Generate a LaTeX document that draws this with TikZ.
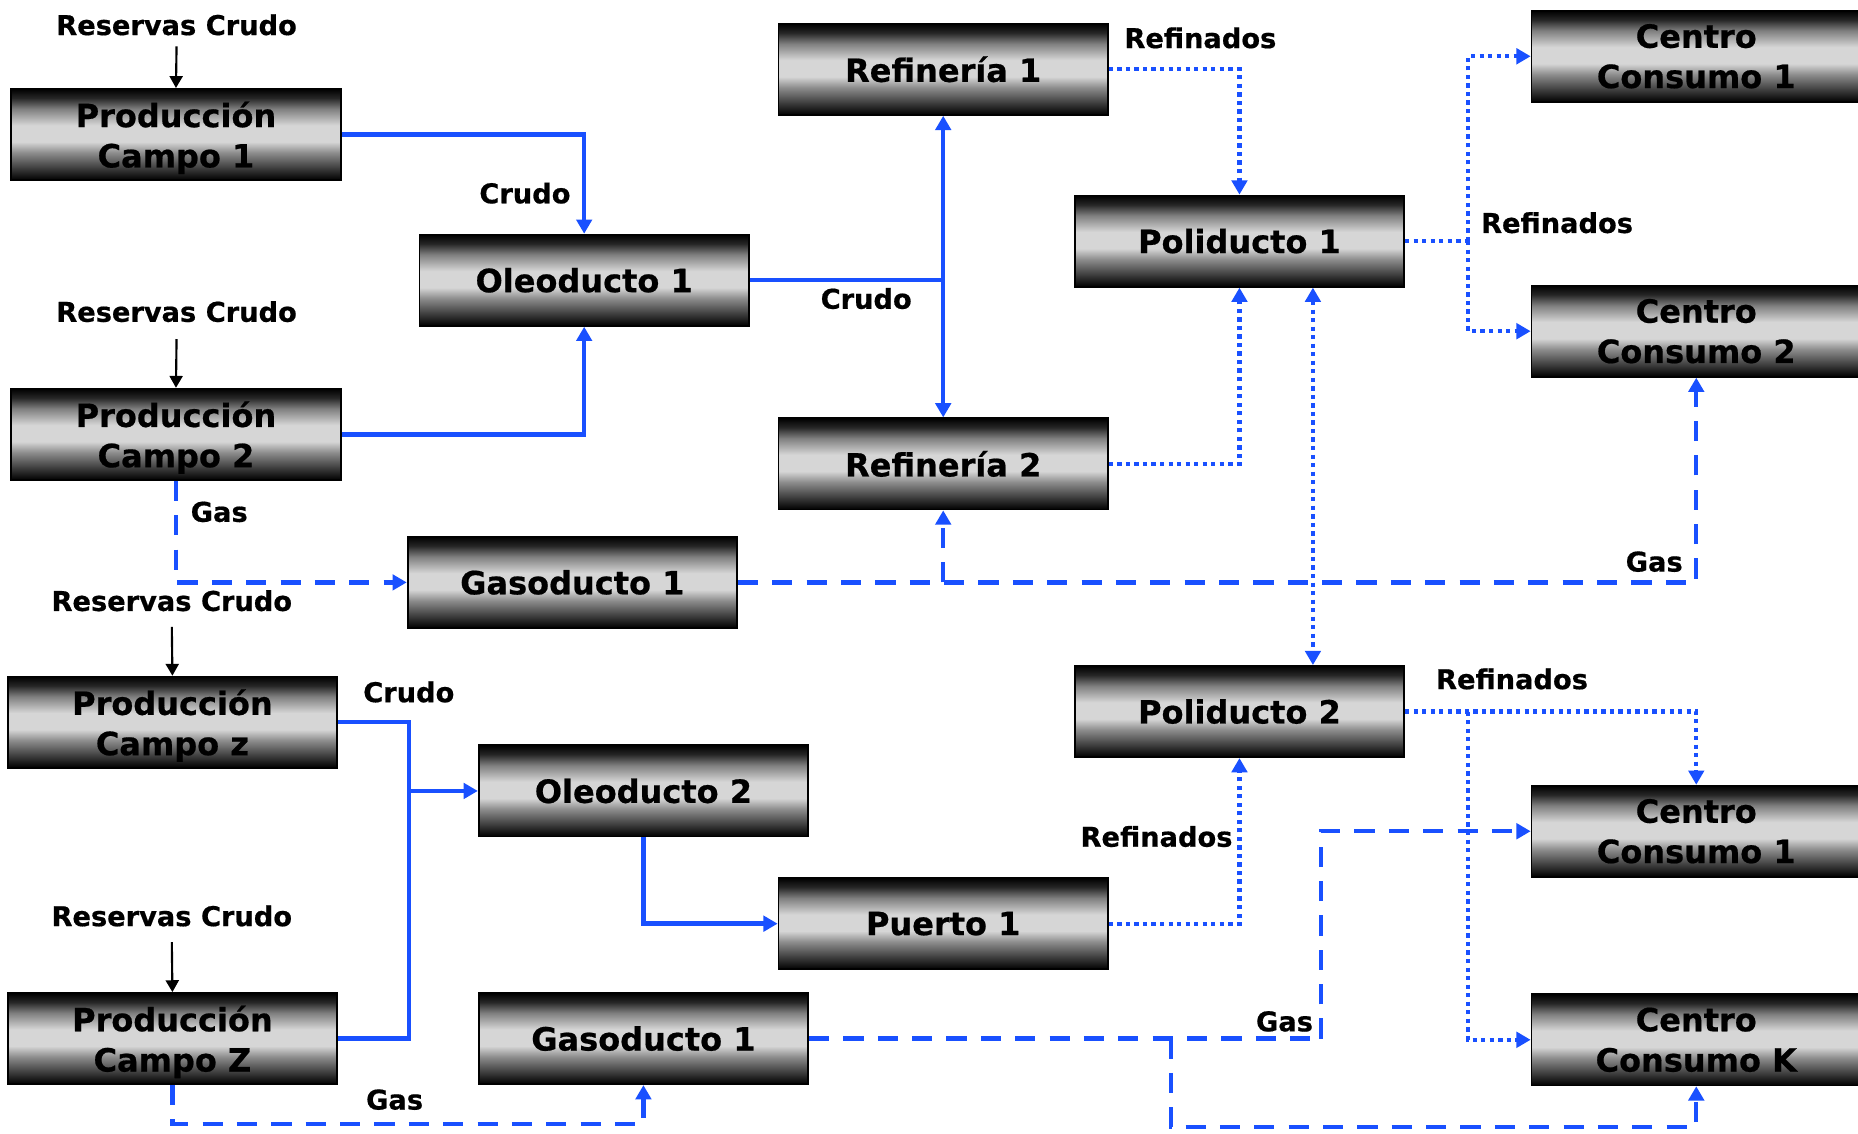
\documentclass[tikz,border=0pt]{standalone}
\usepackage{fontspec}
\setmainfont{DejaVu Sans}[BoldFeatures={FakeBold=0.6}]
\usetikzlibrary{arrows.meta,calc}

\definecolor{flow}{RGB}{25,80,255}
% dark-light-dark bar gradient for the boxes (0bp = bottom)
\pgfdeclareverticalshading{boxshade}{100bp}{%
  color(0bp)=(black); color(25bp)=(black); color(30bp)=(black!82);
  color(40bp)=(black!45); color(46bp)=(black!16); color(55bp)=(black!16);
  color(64bp)=(black!50); color(70bp)=(black!85);
  color(75bp)=(black); color(100bp)=(black)}

% last line whose descender should not shift the centring
\newcommand{\flatline}[1]{\raisebox{0pt}[\height][0pt]{#1}}

\tikzset{
  box/.style={draw=black, line width=1.5pt, shading=boxshade,
    minimum width=278pt, minimum height=77pt, inner sep=0pt, align=center,
    font=\fontsize{27}{34}\selectfont\bfseries},
  lbl/.style={inner sep=0pt, font=\fontsize{23}{26}\selectfont\bfseries},
  crude/.style={flow, line width=3.8pt},
  refined/.style={flow, line width=3.6pt, dash pattern=on 3.6pt off 3.6pt},
  gasline/.style={flow, line width=3.6pt, dash pattern=on 17pt off 12pt},
  tip/.style={-{Triangle[length=12pt,width=13pt]}},
  tips/.style={{Triangle[length=12pt,width=13pt]}-{Triangle[length=12pt,width=13pt]}},
  feed/.style={black, line width=1.8pt, -{Triangle[length=10pt,width=11pt]}}
}

\begin{document}
\begin{tikzpicture}[x=1pt,y=-1pt]
\useasboundingbox (0,0) rectangle (1568,957);

% boxes
\node[box] (pc1)  at (148.5,113.5) {Producción\\\flatline{Campo 1}};
\node[box] (pc2)  at (148.5,366.5) {Producción\\\flatline{Campo 2}};
\node[box] (ol1)  at (493,236.5)   {Oleoducto 1};
\node[box] (ref1) at (796,58.5)    {Refinería 1};
\node[box] (ref2) at (796,391.5)   {Refinería 2};
\node[box] (pol1) at (1046,203.5)  {Poliducto 1};
\node[box] (ccA)  at (1431.5,47.5) {Centro\\Consumo 1};
\node[box] (ccB)  at (1431.5,279.5) {Centro\\Consumo 2};
\node[box] (gs1)  at (483,491.5)   {Gasoducto 1};
\node[box] (pcz)  at (145.5,609.5) {Producción\\\flatline{Campo z}};
\node[box] (ol2)  at (543,667.5)   {Oleoducto 2};
\node[box] (pol2) at (1046,600.5)  {Poliducto 2};
\node[box] (ccC)  at (1431.5,701.5) {Centro\\Consumo 1};
\node[box] (pto)  at (796,779.5)   {Puerto 1};
\node[box] (pcZ)  at (145.5,876.5) {Producción\\\flatline{Campo Z}};
\node[box] (gs2)  at (543,876.5)   {Gasoducto 1};
\node[box] (ccK)  at (1431.5,877.5) {Centro\\Consumo K};

% labels
\node[lbl] (rc1) at (149,21)  {Reservas Crudo};
\node[lbl] (rc2) at (149,263) {Reservas Crudo};
\node[lbl] (rc3) at (145,507) {Reservas Crudo};
\node[lbl] (rc4) at (145,773) {Reservas Crudo};
\node[lbl] (cr1) at (443,163) {Crudo};
\node[lbl] (cr2) at (731,252) {Crudo};
\node[lbl] (cr3) at (345,584) {Crudo};
\node[lbl] (rf1) at (1013,32)  {Refinados};
\node[lbl] (rf2) at (1314,188) {Refinados};
\node[lbl] (rf3) at (1276,573) {Refinados};
\node[lbl] (rf4) at (976,706)  {Refinados};
\node[lbl] (gl1) at (185,432)  {Gas};
\node[lbl] (gl2) at (1396,474) {Gas};
\node[lbl] (gl3) at (333,928)  {Gas};
\node[lbl] (gl4) at (1084,862) {Gas};

% junction points
\coordinate (cj)  at (345,667.5);
\coordinate (rj1) at (1239,203.5);
\coordinate (rj2) at (1239,600.5);
\coordinate (gj1) at (1115,876.5);
\coordinate (gj2) at (988,876.5);

% reserves feeding the fields
\draw[feed] ([yshift=-9pt]rc1.south)  -- (pc1.north);
\draw[feed] ([yshift=-14pt]rc2.south) -- (pc2.north);
\draw[feed] ([yshift=-13pt]rc3.south) -- (pcz.north);
\draw[feed] ([yshift=-13pt]rc4.south) -- (pcZ.north);

% crude oil
\draw[crude, tip] (pc1.east) -| (ol1.north);
\draw[crude, tip] (pc2.east) -| (ol1.south);
\draw[crude] (ol1.east) -- (ol1.east -| ref1.south);
\draw[crude, tips] (ref1.south) -- (ref2.north);
\draw[crude] (pcz.east) -| (cj) |- (pcZ.east);
\draw[crude, tip] (cj) -- (ol2.west);
\draw[crude, tip] (ol2.south) |- (pto.west);

% refined products
\draw[refined, tip] (ref1.east) -| (pol1.north);
\draw[refined, tip] (ref2.east) -| (pol1.south);
\draw[refined] (pol1.east) -- (rj1);
\draw[refined, tip] (rj1) |- (ccA.west);
\draw[refined, tip] (rj1) |- (ccB.west);
\draw[refined, tips] ([xshift=62pt]pol1.south) -- ([xshift=62pt]pol2.north);
\draw[refined, tip] (pol2.east) -| (ccC.north);
\draw[refined, tip] (rj2) |- (ccK.west);
\draw[refined, tip] (pto.east) -| (pol2.south);

% gas
\draw[gasline, tip] (pc2.south) |- (gs1.west);
\draw[gasline, tip] (gs1.east) -| (ccB.south);
\draw[gasline, tip] (gs1.east -| ref2.south) -- (ref2.south);
\draw[gasline, tip] (pcZ.south) -- ++(0,32.5) -| (gs2.south);
\draw[gasline] (gs2.east) -- (gj1);
\draw[gasline, tip] (gj1) |- (ccC.west);
\draw[gasline, tip] (gj2) -- ++(0,74.5) -| (ccK.south);
\end{tikzpicture}
\end{document}
